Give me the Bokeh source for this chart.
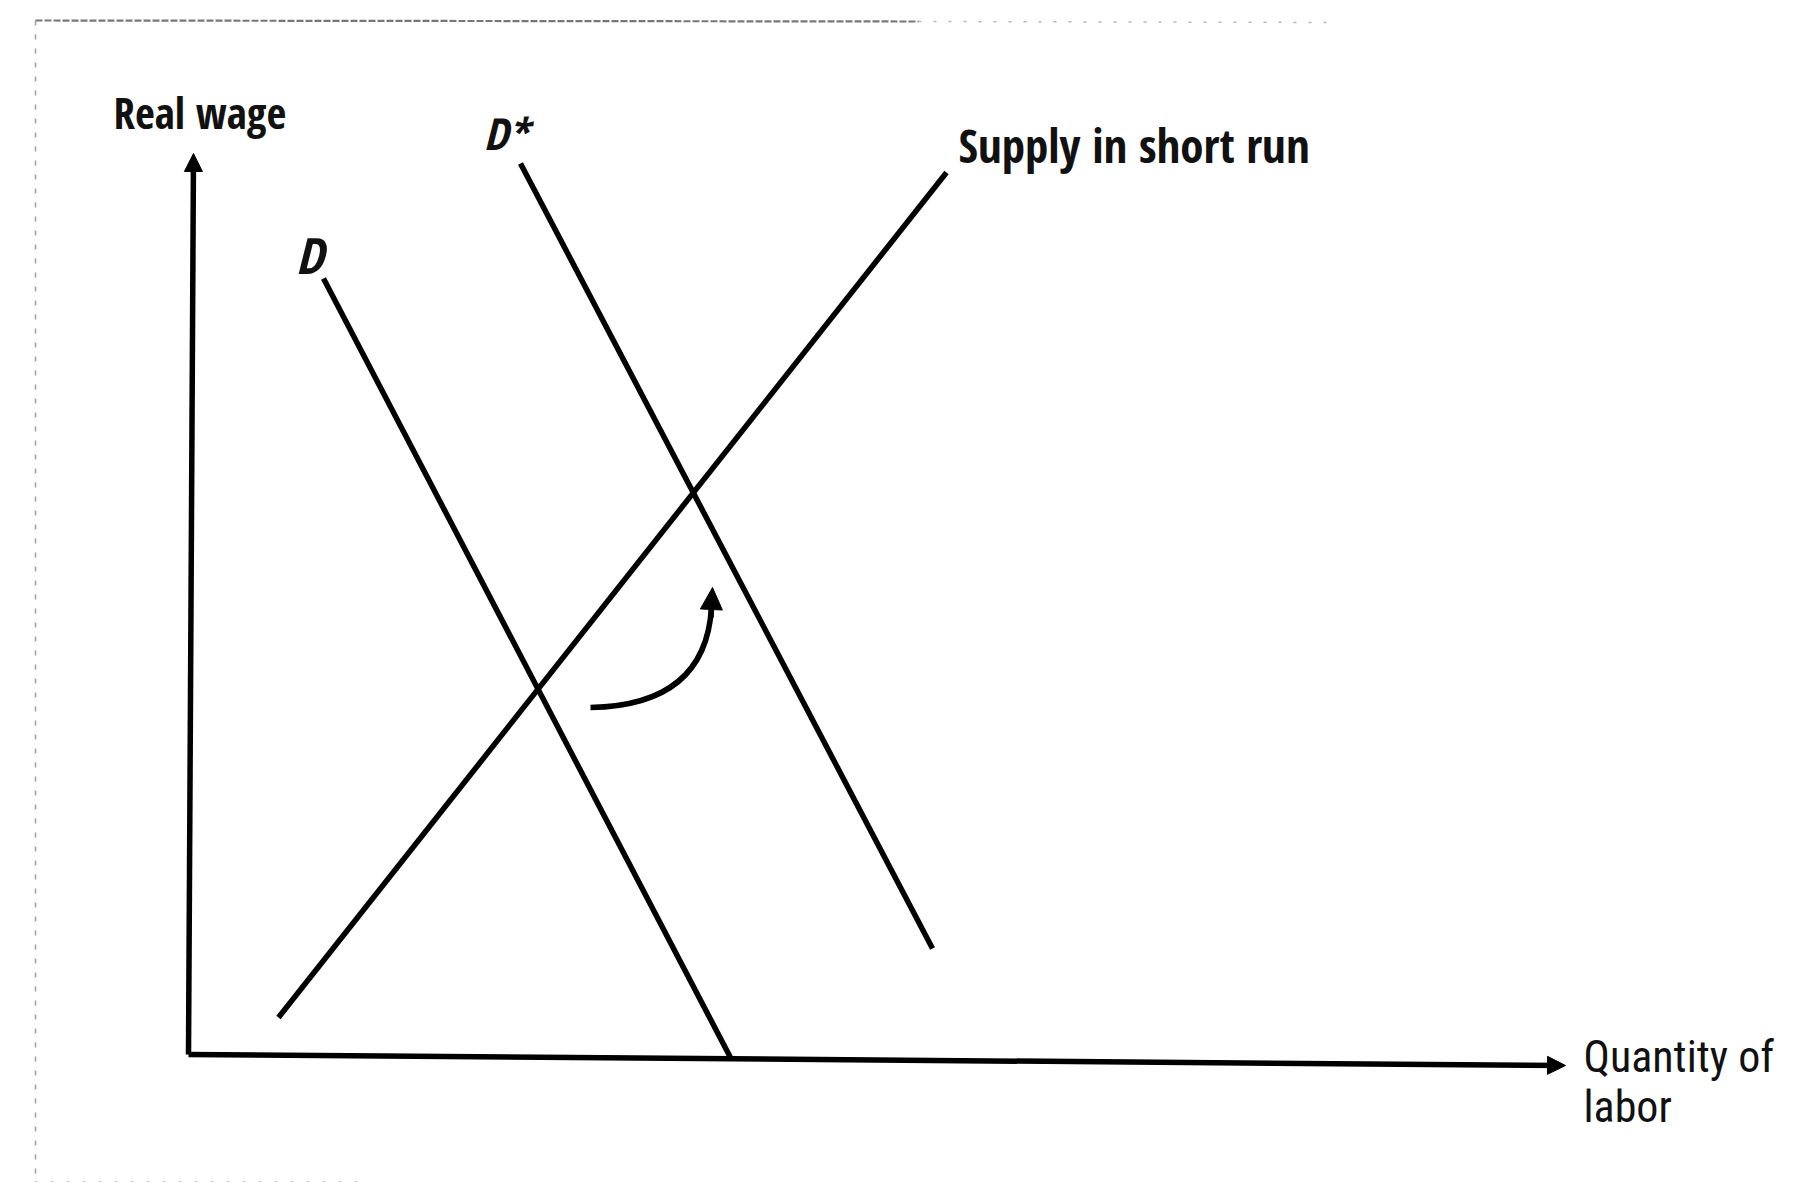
from bokeh.plotting import figure
from bokeh.models import Range1d, Arrow, NormalHead
from bokeh.core.properties import value
from bokeh.embed import file_html
from bokeh.resources import INLINE

# ---- diagram data (abstract units: quantity of labor, real wage) ----
y_axis_end = [0.05, 9.01]
x_axis_end = [13.77, -0.11]

d_x = [1.35, 5.43]
d_y = [7.76, -0.05]

dstar_x = [3.32, 7.44]
dstar_y = [8.91, 1.06]

supply_x = [0.90, 7.58]
supply_y = [0.37, 8.82]

# shift arrow (quadratic curve): start, control, tip
shift_start = [4.02, 3.47]
shift_ctrl = [5.17, 3.49]
shift_tip = [5.24, 4.67]

labels = ["Real wage", "D", "D*", "Supply in short run", "Quantity of", "labor"]
label_x = [-0.75, 1.07, 2.95, 7.70, 13.95, 13.95]
label_y = [9.42, 8.00, 9.22, 9.10, -0.02, -0.52]

W, H = 1784, 1184
p = figure(width=W, height=H, output_backend="svg", toolbar_location=None,
           x_axis_type=None, y_axis_type=None,
           x_range=Range1d(-1.88, (W - 188) / 100),
           y_range=Range1d((1054 - H) / 100, 1054 / 100),
           min_border=0)
p.grid.visible = False
p.outline_line_color = None
p.background_fill_color = "white"
p.border_fill_color = "white"

FONT = "Open Sans Condensed"
FONT_REG = "Roboto Condensed"

# scan border remnants
p.line([-1.53, 7.3], [10.34, 10.33], line_color="#555555", line_width=2.2, line_dash="7 2", alpha=0.8)
p.line([7.3, 11.5], [10.33, 10.32], line_color="#9a9a9a", line_width=1.5, line_dash="3 12", alpha=0.7)
p.line([-1.53, -1.53], [10.34, -1.27], line_color="#8a8a8a", line_width=1.5, line_dash="5 9", alpha=0.8)
p.line([-1.53, 1.8], [-1.27, -1.27], line_color="#a0a0a0", line_width=1.2, line_dash="2 14", alpha=0.7)

LW = 5.5
# axes with arrowheads
p.add_layout(Arrow(end=NormalHead(size=18, fill_color="black", line_color="black"),
                   x_start=0, y_start=0, x_end=y_axis_end[0], y_end=y_axis_end[1],
                   line_width=LW, line_color="black"))
p.add_layout(Arrow(end=NormalHead(size=18, fill_color="black", line_color="black"),
                   x_start=0, y_start=0, x_end=x_axis_end[0], y_end=x_axis_end[1],
                   line_width=LW, line_color="black"))

# curves
p.line(d_x, d_y, line_color="black", line_width=LW)
p.line(dstar_x, dstar_y, line_color="black", line_width=LW)
p.line(supply_x, supply_y, line_color="black", line_width=LW)

# shift arrow
p.quadratic(x0=[shift_start[0]], y0=[shift_start[1]], x1=[shift_tip[0] - 0.01], y1=[shift_tip[1] - 0.2],
            cx=[shift_ctrl[0]], cy=[shift_ctrl[1]], line_color="black", line_width=LW)
p.add_layout(Arrow(end=NormalHead(size=22, fill_color="black", line_color="black"),
                   x_start=shift_tip[0] - 0.015, y_start=shift_tip[1] - 0.3,
                   x_end=shift_tip[0], y_end=shift_tip[1], line_width=LW, line_color="black"))

# labels
p.text([label_x[0]], [label_y[0]], text=[labels[0]], text_font=value(FONT), text_font_style="bold",
       text_font_size="43px", text_color="#111111", text_baseline="alphabetic")
p.text([label_x[1]], [label_y[1]], text=[labels[1]], text_font=value(FONT), text_font_style="bold italic",
       text_font_size="50px", text_color="#111111", text_baseline="alphabetic")
p.text([label_x[2]], [label_y[2]], text=[labels[2]], text_font=value(FONT), text_font_style="bold italic",
       text_font_size="44px", text_color="#111111", text_baseline="alphabetic")
p.text([label_x[3]], [label_y[3]], text=[labels[3]], text_font=value(FONT), text_font_style="bold",
       text_font_size="47px", text_color="#111111", text_baseline="alphabetic")
p.text(label_x[4:], label_y[4:], text=labels[4:], text_font=value(FONT_REG), text_font_style="normal",
       text_font_size="44px", text_color="#111111", text_baseline="alphabetic")

open("out.html", "w").write(file_html(p, INLINE))
